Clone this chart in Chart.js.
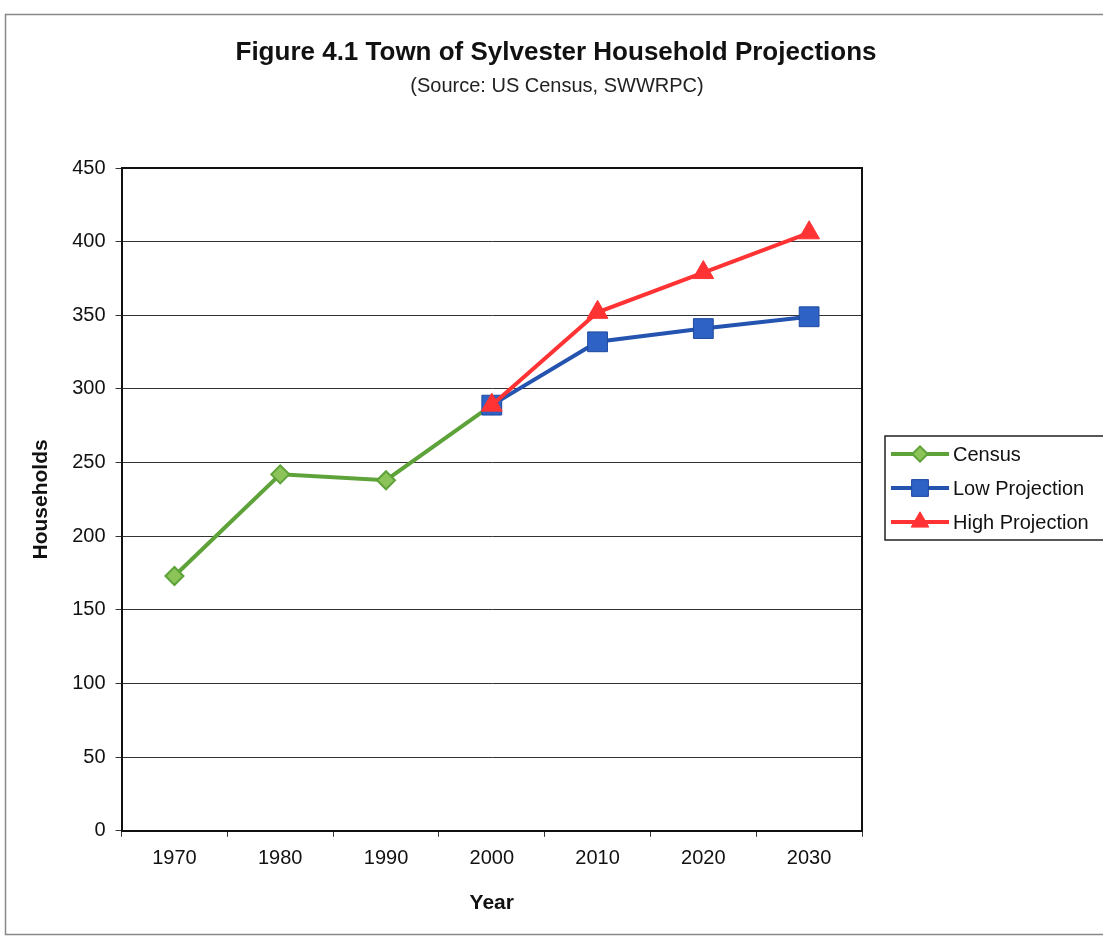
<!DOCTYPE html>
<html>
<head>
<meta charset="utf-8">
<script src="https://cdn.jsdelivr.net/npm/chart.js@4/dist/chart.umd.min.js"></script>
<style>
html,body{margin:0;padding:0;background:#fff;}
#wrap{width:1103px;height:939px;position:relative;}
</style>
</head>
<body>
<div id="wrap"><canvas id="c" width="1103" height="939"></canvas></div>
<script>
const years = ['1970','1980','1990','2000','2010','2020','2030'];
const censusValues = [173, 242, 238, 289, null, null, null];
const lowValues = [null, null, null, 289, 332, 341, 349];
const highValues = [null, null, null, 289, 352, 379, 406];
const yTicks = [0, 50, 100, 150, 200, 250, 300, 350, 400, 450];
const seriesNames = ['Census', 'Low Projection', 'High Projection'];
const titleText = 'Figure 4.1 Town of Sylvester Household Projections';
const subtitleText = '(Source: US Census, SWWRPC)';

const FONT = "'Liberation Sans', Arial, sans-serif";

const frame = {
  id: 'frame',
  beforeDraw(chart) {
    const ctx = chart.ctx;
    ctx.save();
    ctx.fillStyle = '#fff';
    ctx.fillRect(0, 0, chart.width, chart.height);
    ctx.strokeStyle = '#888';
    ctx.lineWidth = 1.5;
    ctx.strokeRect(5.5, 14.5, 1110, 920);
    ctx.fillStyle = '#111';
    ctx.textAlign = 'center';
    ctx.textBaseline = 'middle';
    ctx.font = 'bold 26px ' + FONT;
    ctx.fillText(titleText, 556, 53);
    ctx.fillStyle = '#222';
    ctx.font = '20px ' + FONT;
    ctx.fillText(subtitleText, 557, 86);
    ctx.restore();
  },
  afterDatasetsDraw(chart) {
    const ctx = chart.ctx;
    const a = chart.chartArea;
    ctx.save();
    ctx.strokeStyle = '#111';
    ctx.lineWidth = 2;
    ctx.beginPath();
    ctx.moveTo(a.left, a.top);
    ctx.lineTo(a.right, a.top);
    ctx.lineTo(a.right, a.bottom);
    ctx.stroke();
    ctx.restore();
  },
  afterDraw(chart) {
    const ctx = chart.ctx;
    const a = chart.chartArea;
    const bx = a.right + 23, by = 436, bw = 240, bh = 104;
    ctx.save();
    ctx.fillStyle = '#fff';
    ctx.fillRect(bx, by, bw, bh);
    ctx.strokeStyle = '#222';
    ctx.lineWidth = 1.5;
    ctx.strokeRect(bx, by, bw, bh);
    ctx.font = '20px ' + FONT;
    ctx.textBaseline = 'middle';
    ctx.textAlign = 'left';
    chart.data.datasets.forEach((ds, i) => {
      const y = by + 18 + i * 34;
      ctx.strokeStyle = ds.borderColor;
      ctx.lineWidth = 4;
      ctx.beginPath();
      ctx.moveTo(bx + 6, y);
      ctx.lineTo(bx + 64, y);
      ctx.stroke();
      ctx.fillStyle = ds.pointBackgroundColor;
      ctx.strokeStyle = ds.pointBorderColor;
      ctx.lineWidth = ds.pointBorderWidth;
      Chart.helpers.drawPoint(ctx, {
        pointStyle: ds.pointStyle, radius: ds.pointRadius * 0.85, rotation: 0, borderWidth: ds.pointBorderWidth
      }, bx + 35, y);
      ctx.fillStyle = '#111';
      ctx.fillText(ds.label, bx + 68, y + 1);
    });
    ctx.restore();
  }
};

new Chart(document.getElementById('c'), {
  type: 'line',
  data: {
    labels: years,
    datasets: [
      {
        label: seriesNames[0], data: censusValues, order: 3,
        borderColor: '#5ea23a', backgroundColor: '#7fb84e',
        pointBackgroundColor: '#8cc45a', pointBorderColor: '#5ea23a',
        pointStyle: 'rectRot', pointRadius: 9, pointBorderWidth: 2,
        borderWidth: 4
      },
      {
        label: seriesNames[1], data: lowValues, order: 2,
        borderColor: '#2454b0', backgroundColor: '#2a5cc0',
        pointBackgroundColor: '#2e62c4', pointBorderColor: '#1f4a9e',
        pointStyle: 'rect', pointRadius: 14, pointBorderWidth: 1,
        borderWidth: 4
      },
      {
        label: seriesNames[2], data: highValues, order: 1,
        borderColor: '#ff3333', backgroundColor: '#ff3333',
        pointBackgroundColor: '#ff3333', pointBorderColor: '#ff3333',
        pointStyle: 'triangle', pointRadius: 12, pointBorderWidth: 1,
        borderWidth: 4
      }
    ]
  },
  options: {
    responsive: false,
    animation: false,
    devicePixelRatio: 1,
    layout: { padding: { left: 29, right: 241, top: 168, bottom: 23 } },
    plugins: {
      legend: { display: false },
      tooltip: { enabled: false },
      title: { display: false }
    },
    scales: {
      x: {
        offset: true,
        grid: { display: true, drawOnChartArea: false, offset: true, tickLength: 6, color: '#333', lineWidth: 1 },
        border: { display: true, color: '#111', width: 2 },
        ticks: { color: '#111', font: { family: FONT, size: 20 }, padding: 10 },
        title: { display: true, text: 'Year', color: '#111', font: { family: FONT, size: 21, weight: 'bold' }, padding: { top: 10, bottom: 0 } }
      },
      y: {
        min: 0, max: 450,
        afterBuildTicks(axis) { axis.ticks = yTicks.map(v => ({ value: v })); },
        grid: { color: '#333', lineWidth: 1, tickLength: 6 },
        border: { display: true, color: '#111', width: 2 },
        ticks: { color: '#111', font: { family: FONT, size: 20 }, padding: 10 },
        title: { display: true, text: 'Households', color: '#111', font: { family: FONT, size: 21, weight: 'bold' }, padding: { top: 0, bottom: 8 } }
      }
    }
  },
  plugins: [frame]
});
</script>
</body>
</html>
